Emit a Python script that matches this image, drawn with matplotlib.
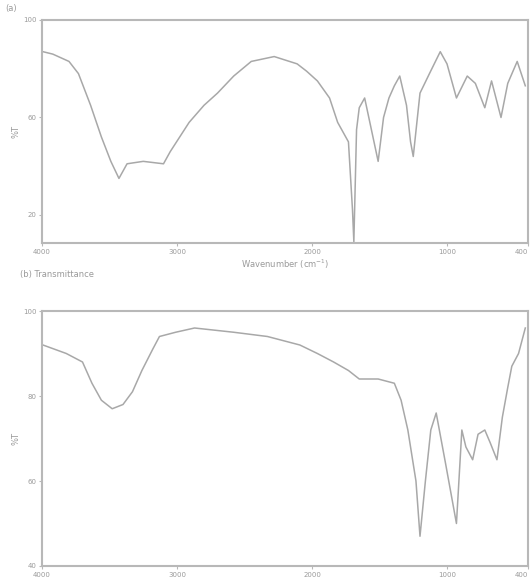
import matplotlib
matplotlib.use("Agg")
import matplotlib.pyplot as plt
import numpy as np

# Spectrum A (top) - wavenumber (cm-1) vs transmittance (%)
wn_a = [3993, 3920, 3800, 3730, 3640, 3560, 3490, 3430, 3370, 3250, 3100, 3050, 2980,
        2910, 2800, 2700, 2580, 2450, 2280, 2110, 2040, 1960, 1870, 1810, 1730, 1700,
        1690, 1670, 1650, 1610, 1560, 1510, 1470, 1430, 1390, 1350, 1300, 1270, 1250,
        1200, 1130, 1050, 1000, 930, 850, 790, 720, 670, 600, 550, 480, 420]
t_a = [87, 86, 83, 78, 65, 52, 42, 35, 41, 42, 41, 46, 52, 58, 65, 70, 77, 83, 85,
       82, 79, 75, 68, 58, 50, 22, 9, 55, 64, 68, 55, 42, 60, 68, 73, 77, 65, 50, 44,
       70, 78, 87, 82, 68, 77, 74, 64, 75, 60, 74, 83, 73]

# Spectrum B (bottom)
wn_b = [3993, 3820, 3700, 3630, 3560, 3480, 3400, 3330, 3260, 3180, 3130, 3010, 2870,
        2580, 2330, 2090, 1960, 1840, 1730, 1650, 1580, 1510, 1390, 1340, 1290, 1230,
        1200, 1160, 1120, 1080, 1010, 930, 890, 860, 810, 770, 720, 680, 630, 590,
        550, 520, 470, 420]
t_b = [92, 90, 88, 83, 79, 77, 78, 81, 86, 91, 94, 95, 96, 95, 94, 92, 90, 88, 86,
       84, 84, 84, 83, 79, 72, 60, 47, 60, 72, 76, 64, 50, 72, 68, 65, 71, 72, 69, 65,
       75, 82, 87, 90, 96]

fig = plt.figure(figsize=(5.32, 5.77), dpi=100)
line_col = "#a8a8a8"
spine_col = "#b8b8b8"
text_col = "#9a9a9a"

ax1 = fig.add_axes([42/532, 1-243/577, (528-42)/532, (243-20)/577])
ax2 = fig.add_axes([42/532, 1-566/577, (528-42)/532, (566-311)/577])

ax1.plot(wn_a, t_a, color=line_col, lw=1.1)
ax2.plot(wn_b, t_b, color=line_col, lw=1.1)

ax1.set_xlim(4000, 400)
ax2.set_xlim(4000, 400)
ax1.set_ylim(8.5, 100)
ax2.set_ylim(40, 100)
ax1.set_yticks([20, 60, 100])
ax2.set_yticks([40, 60, 80, 100])
for ax in (ax1, ax2):
    ax.set_xticks([4000, 3000, 2000, 1000, 400])
    for s in ax.spines.values():
        s.set_color(spine_col)
        s.set_linewidth(1.5)
    ax.tick_params(colors=spine_col, labelcolor=text_col, labelsize=5, length=2.5, pad=1.5)
    ax.set_ylabel("%T", fontsize=6, color=text_col, labelpad=2)
    labels = ax.get_xticklabels()
    labels[-1].set_horizontalalignment("right")

ax1.set_xlabel("Wavenumber (cm$^{-1}$)", fontsize=6, color=text_col, labelpad=2)
fig.text(5/532, 1-8/577, "(a)", fontsize=6, color=text_col, va="center")
fig.text(20/532, 1-274/577, "(b) Transmittance", fontsize=6, color=text_col, va="center")

fig.savefig("out.png", dpi=100)
